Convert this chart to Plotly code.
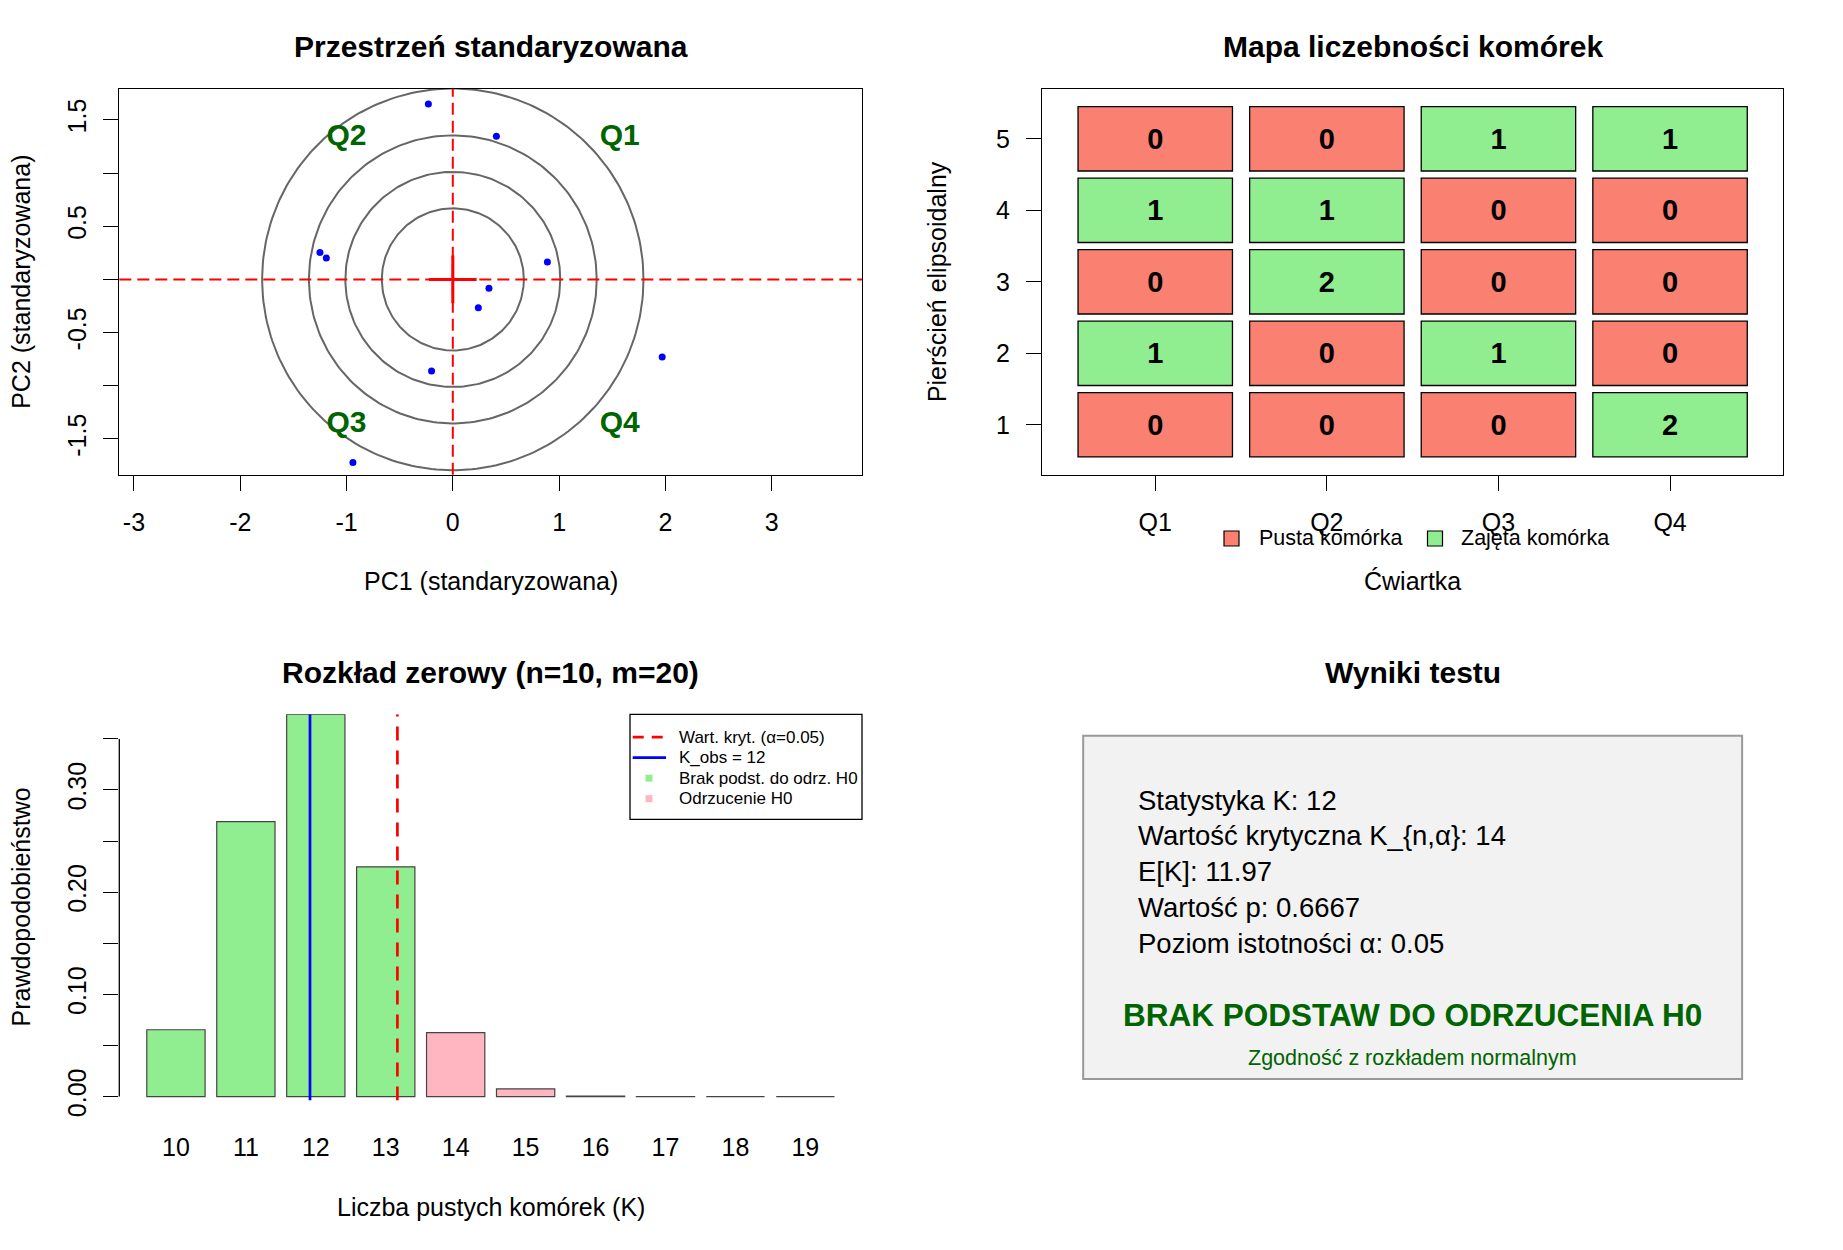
import numpy as np
import plotly.graph_objects as go

# **** Data

# standardized points (PC1, PC2)
pc1 = [-0.23, 0.41, -1.25, -1.19, 0.89, 0.34, 0.24, -0.20, 1.97, -0.94]
pc2 = [1.65, 1.346, 0.253, 0.201, 0.163, -0.082, -0.267, -0.861, -0.730, -1.72]
center = [0.0, 0.0]
ring_radii = [0.668, 1.011, 1.354, 1.794]
quadrant_names = ["Q1", "Q2", "Q3", "Q4"]

# cell counts: rows = ring 1..5, columns = Q1..Q4
rings = [1, 2, 3, 4, 5]
cell_counts = [
    [0, 0, 0, 2],
    [1, 0, 1, 0],
    [0, 2, 0, 0],
    [1, 1, 0, 0],
    [0, 0, 1, 1],
]

# null distribution of K
n_points = 10
n_cells = 20
k_values = [10, 11, 12, 13, 14, 15, 16, 17, 18, 19]
null_probs = [0.0654, 0.269, 0.374, 0.2248, 0.0626, 0.0075, 0.0004, 0.000006, 0.00000002, 0.000000000002]

# test results
k_obs = 12
k_crit = 14
expected_k = 11.97
p_value = 0.6667
alpha = 0.05

# **** Style / geometry

# the page body keeps its 8px margin, so the figure is 16px smaller than the window
OFF = 8
FIG_W, FIG_H = 1843 - 2 * OFF, 1250 - 2 * OFF
# the screenshot comes out slightly squeezed vertically; compensate for it
Y0, SY = 8.6, 0.9853
font_family = "Liberation Sans, Arial, sans-serif"
salmon = "#FA8072"
light_green = "#90EE90"
light_pink = "#FFB6C1"
dark_green = "#006400"


def px_x(p):
    return (p - OFF) / FIG_W


def px_y(p):
    return 1 - ((p - Y0) / SY) / FIG_H


# plot regions in window pixels
left_region = (119.3, 862.0)
right_region = (1042.0, 1783.3)
top_region = (89.3, 475.0)
bottom_region = (714.3, 1100.0)

fig = go.Figure()

# ---- panel 1: standardized space
theta = np.linspace(0, 2 * np.pi, 240)
for r in ring_radii:
    fig.add_trace(go.Scatter(
        x=center[0] + r * np.cos(theta), y=center[1] + r * np.sin(theta),
        mode="lines", line=dict(color="#666666", width=2),
        hoverinfo="skip", xaxis="x", yaxis="y"))

fig.add_trace(go.Scatter(
    x=pc1, y=pc2, mode="markers",
    marker=dict(color="#0000FF", size=7),
    xaxis="x", yaxis="y"))

fig.add_trace(go.Scatter(
    x=[center[0]], y=[center[1]], mode="markers",
    marker=dict(symbol="cross-thin", size=34, line=dict(color="#FF0000", width=3)),
    xaxis="x", yaxis="y"))

quad_label_x = [1.57, -1.0, -1.0, 1.57]
quad_label_y = [1.33, 1.33, -1.36, -1.36]
fig.add_trace(go.Scatter(
    x=quad_label_x, y=quad_label_y, mode="text",
    text=["<b>" + q + "</b>" for q in quadrant_names],
    textfont=dict(color=dark_green, size=30, family=font_family),
    hoverinfo="skip", xaxis="x", yaxis="y"))

# ---- panel 2: cell count map (tiles as bars with a base)
empty_x, empty_base, empty_txt = [], [], []
full_x, full_base, full_txt = [], [], []
for ri, ring in enumerate(rings):
    for qi, cnt in enumerate(cell_counts[ri]):
        if cnt == 0:
            empty_x.append(qi + 1)
            empty_base.append(ring - 0.45)
            empty_txt.append("<b>%d</b>" % cnt)
        else:
            full_x.append(qi + 1)
            full_base.append(ring - 0.45)
            full_txt.append("<b>%d</b>" % cnt)

for xs, bases, txt, col in [(empty_x, empty_base, empty_txt, salmon),
                            (full_x, full_base, full_txt, light_green)]:
    fig.add_trace(go.Bar(
        x=xs, y=[0.9] * len(xs), base=bases, width=0.9,
        marker=dict(color=col, line=dict(color="black", width=1.3)),
        text=txt, textposition="inside", insidetextanchor="middle", textangle=0,
        textfont=dict(color="black", size=29, family=font_family),
        xaxis="x2", yaxis="y2"))

# ---- panel 3: null distribution
bar_pos = [0.7 + 1.2 * i for i in range(len(k_values))]
acc_x = [bar_pos[i] for i, k in enumerate(k_values) if k < k_crit]
acc_y = [null_probs[i] for i, k in enumerate(k_values) if k < k_crit]
rej_x = [bar_pos[i] for i, k in enumerate(k_values) if k >= k_crit]
rej_y = [null_probs[i] for i, k in enumerate(k_values) if k >= k_crit]

for xs, ys, col in [(acc_x, acc_y, light_green), (rej_x, rej_y, light_pink)]:
    fig.add_trace(go.Bar(
        x=xs, y=ys, width=1.0,
        marker=dict(color=col, line=dict(color="#444444", width=1.2)),
        xaxis="x3", yaxis="y3"))

y3_max = max(null_probs)
y3_min = -0.01 * y3_max
crit_pos = (k_crit - k_values[0]) + 0.5
obs_pos = (k_obs - k_values[0] + 1) * 1.2 - 0.6

fig.add_trace(go.Scatter(
    x=[crit_pos, crit_pos], y=[y3_min, y3_max], mode="lines",
    line=dict(color="#FF0000", width=2.7, dash="14px,10px"),
    xaxis="x3", yaxis="y3"))
fig.add_trace(go.Scatter(
    x=[obs_pos, obs_pos], y=[y3_min, y3_max], mode="lines",
    line=dict(color="#0000FF", width=2.7),
    xaxis="x3", yaxis="y3"))

# ---- layout
tick_font = dict(family=font_family, size=25, color="black")
common_box = dict(showline=True, mirror=True, linecolor="black", linewidth=1.3,
                  showgrid=False, zeroline=False, ticks="outside", ticklen=15,
                  tickwidth=1.3, tickcolor="black", tickfont=tick_font)

x1_ticks = [-3, -2, -1, 0, 1, 2, 3]
fig.update_layout(
    width=FIG_W, height=FIG_H, autosize=False,
    margin=dict(l=0, r=0, t=0, b=0),
    paper_bgcolor="white", plot_bgcolor="white",
    font=dict(family=font_family, color="black"),
    barmode="overlay", showlegend=False,
    xaxis=dict(domain=[px_x(left_region[0]), px_x(left_region[1])], range=[-3.138, 3.85],
               tickvals=x1_ticks, ticktext=[str(v) for v in x1_ticks],
               ticklabelstandoff=10, anchor="y", **common_box),
    yaxis=dict(domain=[px_y(top_region[1]), px_y(top_region[0])], range=[-1.837, 1.792],
               tickvals=[-1.5, -1, -0.5, 0, 0.5, 1, 1.5],
               ticktext=["-1.5", "", "-0.5", "", "0.5", "", "1.5"],
               tickangle=-90, ticklabelstandoff=7, anchor="x", **common_box),
    xaxis2=dict(domain=[px_x(right_region[0]), px_x(right_region[1])], range=[0.34, 4.66],
                tickvals=[1, 2, 3, 4], ticktext=quadrant_names, ticklabelstandoff=10,
                anchor="y2", **common_box),
    yaxis2=dict(domain=[px_y(top_region[1]), px_y(top_region[0])], range=[0.3, 5.7],
                tickvals=rings, ticklabelstandoff=11, anchor="x2", **common_box),
    xaxis3=dict(domain=[px_x(left_region[0]), px_x(left_region[1])], range=[-0.272, 12.472],
                tickvals=bar_pos, ticktext=[str(k) for k in k_values], ticks="",
                showline=False, showgrid=False, zeroline=False, tickfont=tick_font,
                ticklabelstandoff=30, anchor="y3"),
    yaxis3=dict(domain=[px_y(bottom_region[1]), px_y(bottom_region[0])], range=[y3_min, y3_max],
                tickvals=[0, 0.05, 0.1, 0.15, 0.2, 0.25, 0.3, 0.35],
                ticktext=["0.00", "", "0.10", "", "0.20", "", "0.30", ""],
                tickangle=-90, showline=False, showgrid=False, zeroline=False,
                ticks="outside", ticklen=15, tickwidth=1.3, tickcolor="black",
                tickfont=tick_font, ticklabelstandoff=7, anchor="x3"),
    xaxis4=dict(domain=[px_x(right_region[0]), px_x(right_region[1])], range=[-0.04, 1.04],
                visible=False, anchor="y4"),
    yaxis4=dict(domain=[px_y(bottom_region[1]), px_y(bottom_region[0])], range=[-0.04, 1.04],
                visible=False, anchor="x4"),
)

shapes = []
annotations = []

# reference lines in panel 1
shapes.append(dict(type="line", xref="x domain", yref="y", x0=0, x1=1, y0=center[1], y1=center[1],
                   line=dict(color="#FF0000", width=2, dash="12px,6px")))
shapes.append(dict(type="line", xref="x", yref="y domain", x0=center[0], x1=center[0], y0=0, y1=1,
                   line=dict(color="#FF0000", width=2, dash="12px,6px")))

# y axis line of the bar plot (only spans the tick range)
shapes.append(dict(type="line", xref="x3 domain", yref="y3", x0=0, x1=0, y0=0, y1=0.35,
                   line=dict(color="black", width=1.3)))

# legend of panel 2 (drawn like R's legend, horizontal, no box)
legend2_items = [("Pusta komórka", salmon, 1231.5, 1257.0), ("Zajęta komórka", light_green, 1435.0, 1459.0)]
legend2_y = 538.6
for name, col, sq_x, tx_x in legend2_items:
    shapes.append(dict(type="rect", xref="paper", yref="paper",
                       x0=px_x(sq_x - 7.5), x1=px_x(sq_x + 7.5),
                       y0=px_y(legend2_y + 7.5), y1=px_y(legend2_y - 7.5),
                       fillcolor=col, line=dict(color="black", width=1.2)))
    annotations.append(dict(xref="paper", yref="paper", x=px_x(tx_x), y=px_y(legend2_y), text=name,
                            showarrow=False, xanchor="left", yanchor="middle",
                            font=dict(size=21.5, family=font_family, color="black")))

# legend of panel 3 (top right of the plot region)
leg_left, leg_right = 630.0, left_region[1]
leg_top, leg_bottom = bottom_region[0], 819.3
shapes.append(dict(type="rect", xref="paper", yref="paper",
                   x0=px_x(leg_left), x1=px_x(leg_right), y0=px_y(leg_bottom), y1=px_y(leg_top),
                   fillcolor="white", line=dict(color="black", width=1.3)))
legend3_rows = [737.0, 757.5, 778.0, 798.5]
legend3_names = ["Wart. kryt. (α=%s)" % alpha, "K_obs = %d" % k_obs,
                 "Brak podst. do odrz. H0", "Odrzucenie H0"]
shapes.append(dict(type="line", xref="paper", yref="paper",
                   x0=px_x(632.7), x1=px_x(666.0), y0=px_y(legend3_rows[0]), y1=px_y(legend3_rows[0]),
                   line=dict(color="#FF0000", width=2.7, dash="11px,8px")))
shapes.append(dict(type="line", xref="paper", yref="paper",
                   x0=px_x(632.7), x1=px_x(666.0), y0=px_y(legend3_rows[1]), y1=px_y(legend3_rows[1]),
                   line=dict(color="#0000FF", width=2.7)))
for row_y, col in [(legend3_rows[2], light_green), (legend3_rows[3], light_pink)]:
    shapes.append(dict(type="rect", xref="paper", yref="paper",
                       x0=px_x(645.5), x1=px_x(652.5), y0=px_y(row_y + 3.5), y1=px_y(row_y - 3.5),
                       fillcolor=col, line=dict(width=0)))
for row_y, name in zip(legend3_rows, legend3_names):
    annotations.append(dict(xref="paper", yref="paper", x=px_x(677.0), y=px_y(row_y), text=name,
                            showarrow=False, xanchor="left", yanchor="middle",
                            font=dict(size=17, family=font_family, color="black")))

# results panel
shapes.append(dict(type="rect", xref="x4", yref="y4", x0=0.02, x1=0.98, y0=0.02, y1=0.98,
                   fillcolor="#F2F2F2", line=dict(color="#999999", width=2), layer="below"))

info_lines = [
    "Statystyka K: %d" % k_obs,
    "Wartość krytyczna K_{n,α}: %d" % k_crit,
    "E[K]: %.2f" % expected_k,
    "Wartość p: %.4f" % p_value,
    "Poziom istotności α: %s" % alpha,
]
for i, line in enumerate(info_lines):
    annotations.append(dict(xref="x4", yref="y4", x=0.0965, y=0.8 - 0.1 * i, text=line,
                            showarrow=False, xanchor="left", yanchor="middle",
                            font=dict(size=27.5, family=font_family, color="black")))
annotations.append(dict(xref="x4", yref="y4", x=0.5, y=0.2, text="<b>BRAK PODSTAW DO ODRZUCENIA H0</b>",
                        showarrow=False, xanchor="center", yanchor="middle",
                        font=dict(size=31.5, family=font_family, color=dark_green)))
annotations.append(dict(xref="x4", yref="y4", x=0.5, y=0.08, text="Zgodność z rozkładem normalnym",
                        showarrow=False, xanchor="center", yanchor="middle",
                        font=dict(size=21.5, family=font_family, color=dark_green)))

# titles
left_cx = (left_region[0] + left_region[1]) / 2
right_cx = (right_region[0] + right_region[1]) / 2
titles = [
    ("Przestrzeń standaryzowana", left_cx, 47),
    ("Mapa liczebności komórek", right_cx, 47),
    ("Rozkład zerowy (n=%d, m=%d)" % (n_points, n_cells), left_cx, 672),
    ("Wyniki testu", right_cx, 672),
]
for txt, cx, cy in titles:
    annotations.append(dict(xref="paper", yref="paper", x=px_x(cx), y=px_y(cy), text="<b>" + txt + "</b>",
                            showarrow=False, xanchor="center", yanchor="middle",
                            font=dict(size=30, family=font_family, color="black")))

# axis titles
axis_titles = [
    ("PC1 (standaryzowana)", left_cx, 581, 0),
    ("PC2 (standaryzowana)", 21.0, (top_region[0] + top_region[1]) / 2, -90),
    ("Ćwiartka", right_cx, 581, 0),
    ("Pierścień elipsoidalny", 937.3, (top_region[0] + top_region[1]) / 2, -90),
    ("Liczba pustych komórek (K)", left_cx, 1206, 0),
    ("Prawdopodobieństwo", 21.0, (bottom_region[0] + bottom_region[1]) / 2, -90),
]
for txt, cx, cy, ang in axis_titles:
    annotations.append(dict(xref="paper", yref="paper", x=px_x(cx), y=px_y(cy), text=txt,
                            showarrow=False, xanchor="center", yanchor="middle", textangle=ang,
                            font=dict(size=25, family=font_family, color="black")))

fig.update_layout(shapes=shapes, annotations=annotations)

fig.write_html("out.html")
